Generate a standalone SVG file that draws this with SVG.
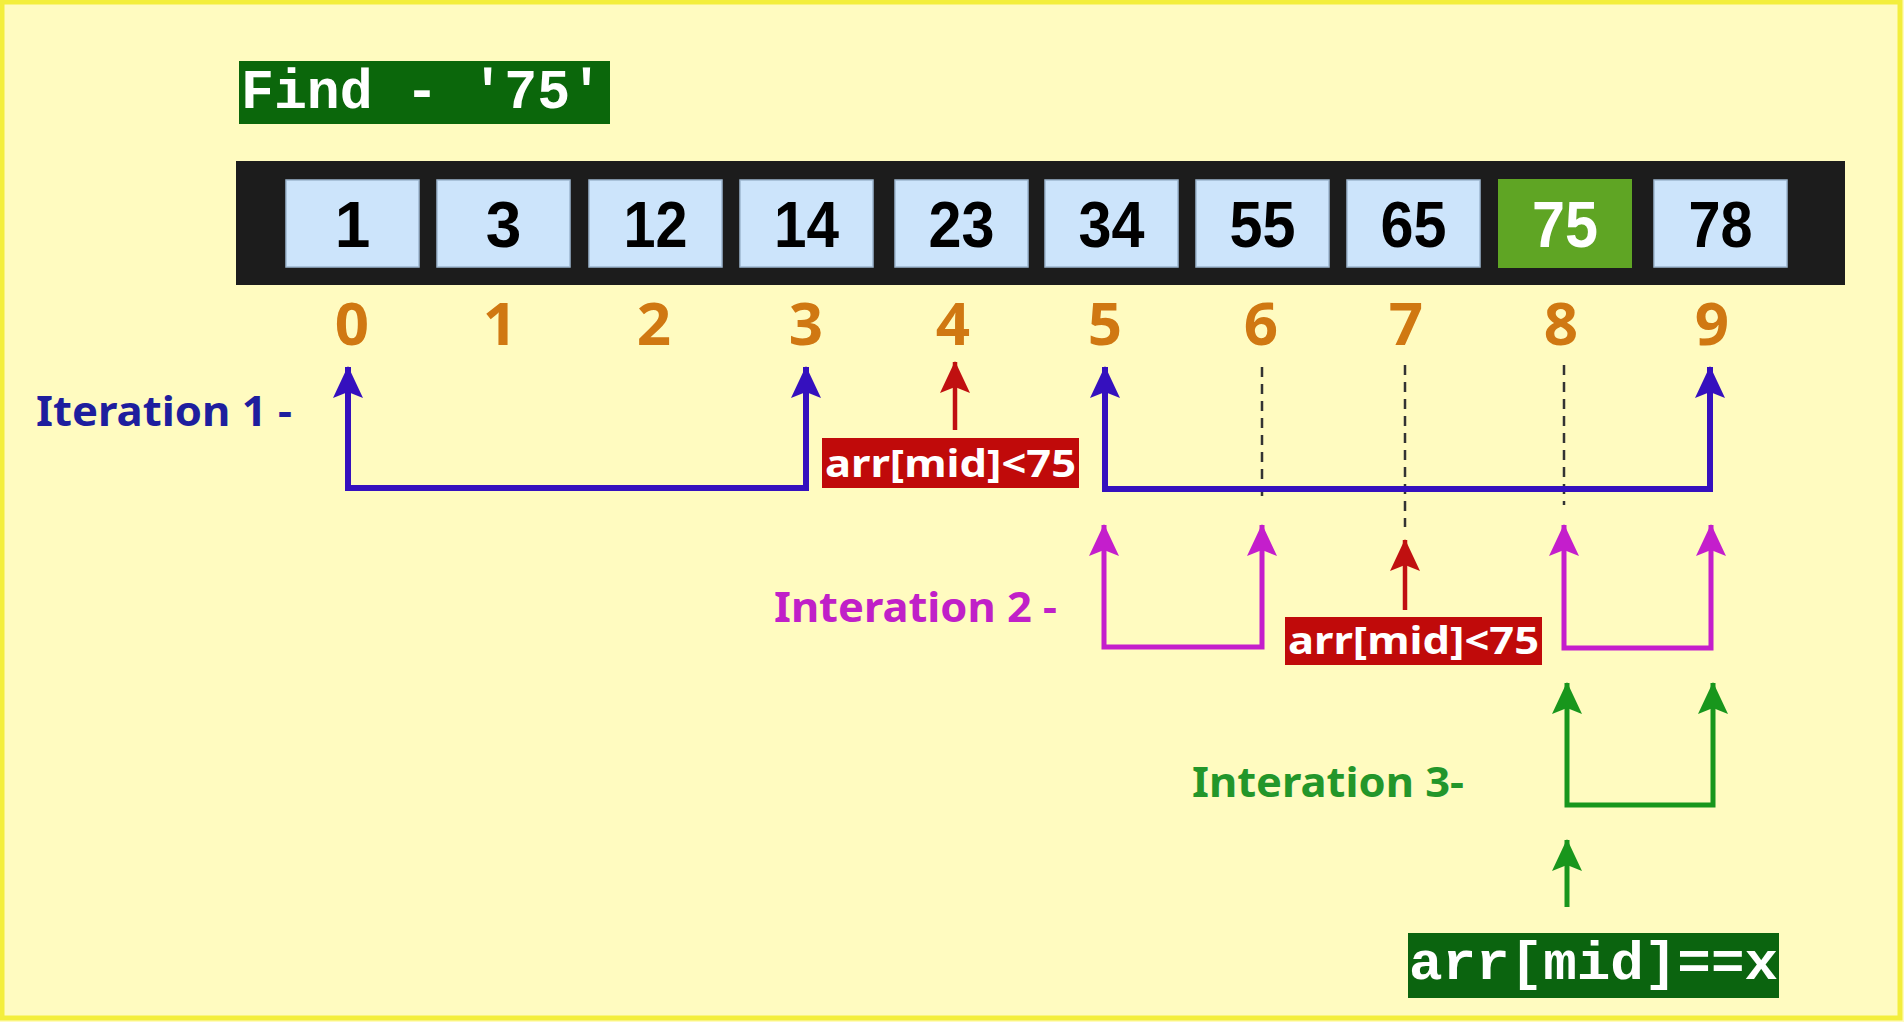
<svg xmlns="http://www.w3.org/2000/svg" width="1904" height="1022" viewBox="0 0 1904 1022">
<style>
.cell{fill:#CCE4FB;stroke:#9DB6CF;stroke-width:1.5}
.num{font-family:"Liberation Sans",Arial,sans-serif;font-weight:bold;font-size:64px;fill:#000;text-anchor:middle}
.idx{font-family:"Noto Sans","DejaVu Sans",sans-serif;font-weight:bold;font-size:60px;fill:#D07812;text-anchor:middle}
.lbl{font-family:"Noto Sans","DejaVu Sans",sans-serif;font-weight:bold;font-size:42px}
.cond{font-family:"Noto Sans","DejaVu Sans",sans-serif;font-weight:bold;font-size:38px;fill:#fff}
.mono{font-family:"Liberation Mono","Courier New",monospace;font-weight:bold;fill:#fff}
.blue{fill:none;stroke:#3510BE;stroke-width:6}
.mag{fill:none;stroke:#C41ECC;stroke-width:5}
.grn{fill:none;stroke:#18961C;stroke-width:5}
.red{fill:none;stroke:#C01010;stroke-width:4.5}
.dash{fill:none;stroke:#333;stroke-width:2.5;stroke-dasharray:10 7}
</style>
<defs>
<marker id="hb" markerUnits="userSpaceOnUse" viewBox="0 0 32 30" refX="31" refY="15" markerWidth="32" markerHeight="30" orient="auto-start-reverse"><path d="M0,0 L32,15 L0,30 L6,15 z" fill="#3510BE"/></marker>
<marker id="hm" markerUnits="userSpaceOnUse" viewBox="0 0 32 30" refX="31" refY="15" markerWidth="32" markerHeight="30" orient="auto-start-reverse"><path d="M0,0 L32,15 L0,30 L6,15 z" fill="#C41ECC"/></marker>
<marker id="hg" markerUnits="userSpaceOnUse" viewBox="0 0 32 30" refX="31" refY="15" markerWidth="32" markerHeight="30" orient="auto-start-reverse"><path d="M0,0 L32,15 L0,30 L6,15 z" fill="#18961C"/></marker>
<marker id="hr" markerUnits="userSpaceOnUse" viewBox="0 0 32 30" refX="31" refY="15" markerWidth="32" markerHeight="30" orient="auto"><path d="M0,0 L32,15 L0,30 L6,15 z" fill="#C01010"/></marker>
</defs>
<rect x="0" y="0" width="1904" height="1022" fill="#FFFBC0"/>
<rect x="2" y="2" width="1898" height="1016" fill="none" stroke="#F3EE3C" stroke-width="5"/>

<g id="title">
<rect x="239" y="61" width="371" height="63" fill="#0B670B"/>
<text class="mono" x="241" y="108" font-size="56" textLength="362" lengthAdjust="spacingAndGlyphs">Find - '75'</text>
</g>

<g id="array">
<rect x="236" y="161" width="1609" height="124" fill="#1C1C1C"/>
<g id="c0"><rect class="cell" x="286" y="180" width="133" height="87"/><text class="num" x="352.5" y="247">1</text></g>
<g id="c1"><rect class="cell" x="437" y="180" width="133" height="87"/><text class="num" x="503.5" y="247">3</text></g>
<g id="c2"><rect class="cell" x="589" y="180" width="133" height="87"/><text class="num" x="655.5" y="247" textLength="64" lengthAdjust="spacingAndGlyphs">12</text></g>
<g id="c3"><rect class="cell" x="740" y="180" width="133" height="87"/><text class="num" x="806.5" y="247" textLength="65" lengthAdjust="spacingAndGlyphs">14</text></g>
<g id="c4"><rect class="cell" x="895" y="180" width="133" height="87"/><text class="num" x="961.5" y="247" textLength="66" lengthAdjust="spacingAndGlyphs">23</text></g>
<g id="c5"><rect class="cell" x="1045" y="180" width="133" height="87"/><text class="num" x="1111.5" y="247" textLength="66" lengthAdjust="spacingAndGlyphs">34</text></g>
<g id="c6"><rect class="cell" x="1196" y="180" width="133" height="87"/><text class="num" x="1262.5" y="247" textLength="66" lengthAdjust="spacingAndGlyphs">55</text></g>
<g id="c7"><rect class="cell" x="1347" y="180" width="133" height="87"/><text class="num" x="1413.5" y="247" textLength="66" lengthAdjust="spacingAndGlyphs">65</text></g>
<g id="c8"><rect x="1498" y="179" width="134" height="89" fill="#5FA524"/><text class="num" x="1565" y="247" fill="#fff" style="fill:#fff" textLength="66" lengthAdjust="spacingAndGlyphs">75</text></g>
<g id="c9"><rect class="cell" x="1654" y="180" width="133" height="87"/><text class="num" x="1720.5" y="247" textLength="64" lengthAdjust="spacingAndGlyphs">78</text></g>
</g>

<g id="indices">
<text class="idx" x="352" y="345">0</text>
<text class="idx" x="500" y="345">1</text>
<text class="idx" x="654" y="345">2</text>
<text class="idx" x="806" y="345">3</text>
<text class="idx" x="953" y="345">4</text>
<text class="idx" x="1105" y="345">5</text>
<text class="idx" x="1261" y="345">6</text>
<text class="idx" x="1406" y="345">7</text>
<text class="idx" x="1561" y="345">8</text>
<text class="idx" x="1712" y="345">9</text>
</g>

<g id="labels">
<text class="lbl" x="36" y="426" fill="#1E1E9E" textLength="256" lengthAdjust="spacingAndGlyphs">Iteration 1 -</text>
<text class="lbl" x="774" y="622" fill="#C020C8" textLength="283" lengthAdjust="spacingAndGlyphs">Interation 2 -</text>
<text class="lbl" x="1192" y="797" fill="#23962A" textLength="272" lengthAdjust="spacingAndGlyphs">Interation 3-</text>
</g>

<g id="cond1"><rect x="822" y="438" width="257" height="50" fill="#C00A0A"/><text class="cond" x="825" y="477" textLength="251" lengthAdjust="spacingAndGlyphs">arr[mid]&lt;75</text></g>
<g id="cond2"><rect x="1285" y="617" width="257" height="48" fill="#C00A0A"/><text class="cond" x="1288" y="654" textLength="251" lengthAdjust="spacingAndGlyphs">arr[mid]&lt;75</text></g>
<g id="found"><rect x="1408" y="933" width="371" height="65" fill="#0B640F"/><text class="mono" x="1409" y="979" font-size="54" textLength="369" lengthAdjust="spacingAndGlyphs">arr[mid]==x</text></g>

<g id="connectors">
<path class="dash" d="M1262,367 V503"/>
<path class="dash" d="M1405,365 V527"/>
<path class="dash" d="M1564,365 V505"/>
<path class="blue" d="M348,367 V488 H806 V367" marker-start="url(#hb)" marker-end="url(#hb)"/>
<path class="blue" d="M1105,367 V489 H1710 V367" marker-start="url(#hb)" marker-end="url(#hb)"/>
<path class="red" d="M955,430 V362" marker-end="url(#hr)"/>
<path class="mag" d="M1104,525 V647 H1262 V525" marker-start="url(#hm)" marker-end="url(#hm)"/>
<path class="mag" d="M1564,525 V648 H1711 V525" marker-start="url(#hm)" marker-end="url(#hm)"/>
<path class="red" d="M1405,610 V540" marker-end="url(#hr)"/>
<path class="grn" d="M1567,683 V805 H1713 V683" marker-start="url(#hg)" marker-end="url(#hg)"/>
<path class="grn" d="M1567,907 V840" marker-end="url(#hg)"/>
</g>
</svg>
